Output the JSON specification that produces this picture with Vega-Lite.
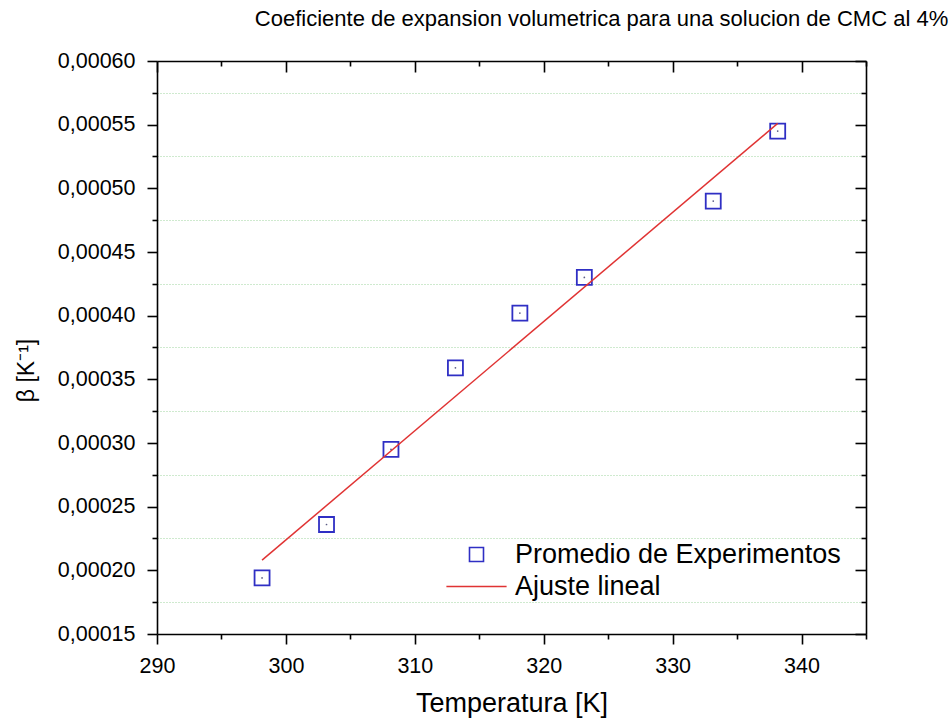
{
  "$schema": "https://vega.github.io/schema/vega-lite/v6.json",
  "width": 709,
  "height": 573,
  "autosize": "none",
  "padding": {"left": 157, "top": 61, "right": 83, "bottom": 85},
  "background": "white",
  "config": {
    "view": {"stroke": null},
    "font": "Liberation Sans",
    "axis": {"labelFont": "Liberation Sans", "titleFont": "Liberation Sans", "labelColor": "black", "titleColor": "black", "domainColor": "black", "tickColor": "black", "domainWidth": 1.6, "tickWidth": 1.6, "titleFontWeight": "normal"},
    "legend": {"labelFont": "Liberation Sans"}
  },
  "title": {"text": "Coeficiente de expansion volumetrica para una solucion de CMC al 4%", "fontSize": 22, "fontWeight": "normal", "font": "Liberation Sans", "color": "black", "anchor": "middle", "dx": 90, "offset": 19},
  "datasets": {
    "pts": [
      {"T": 298.15, "b": 0.000194, "s": "Promedio de Experimentos"},
      {"T": 303.15, "b": 0.000236, "s": "Promedio de Experimentos"},
      {"T": 308.15, "b": 0.000295, "s": "Promedio de Experimentos"},
      {"T": 313.15, "b": 0.000359, "s": "Promedio de Experimentos"},
      {"T": 318.15, "b": 0.000402, "s": "Promedio de Experimentos"},
      {"T": 323.15, "b": 0.00043, "s": "Promedio de Experimentos"},
      {"T": 333.15, "b": 0.00049, "s": "Promedio de Experimentos"},
      {"T": 338.15, "b": 0.000545, "s": "Promedio de Experimentos"}
    ],
    "fit": [
      {"T": 298.15, "b": 0.000208, "s": "Ajuste lineal"},
      {"T": 338.15, "b": 0.000551, "s": "Ajuste lineal"}
    ]
  },
  "resolve": {"axis": {"x": "independent", "y": "independent"}},
  "layer": [
    {
      "data": {"name": "pts"},
      "mark": {"type": "point", "shape": "square", "filled": false, "size": 225, "strokeWidth": 1.8, "opacity": 1},
      "encoding": {
        "x": {"field": "T", "type": "quantitative", "scale": {"domain": [290, 345], "nice": false, "zero": false},
          "axis": {"orient": "bottom", "values": [290, 295, 300, 305, 310, 315, 320, 325, 330, 335, 340, 345],
            "labelExpr": "datum.value % 10 === 0 ? datum.label : ''",
            "tickSize": {"condition": {"test": "datum.value % 10 === 0", "value": 10}, "value": 5},
            "labelFontSize": 21.5, "labelPadding": 11, "labelFlush": false, "labelOverlap": false, "grid": false,
            "title": "Temperatura [K]", "titleFontSize": 27, "titlePadding": 14}},
        "y": {"field": "b", "type": "quantitative", "scale": {"domain": [0.00015, 0.0006], "nice": false, "zero": false},
          "axis": {"orient": "left", "values": [0.00015, 0.000175, 0.0002, 0.000225, 0.00025, 0.000275, 0.0003, 0.000325, 0.00035, 0.000375, 0.0004, 0.000425, 0.00045, 0.000475, 0.0005, 0.000525, 0.00055, 0.000575, 0.0006],
            "labelExpr": "abs(datum.value*20000 - round(datum.value*20000)) < 0.01 ? replace(format(datum.value, '.5f'), '.', ',') : ''",
            "tickSize": {"condition": {"test": "abs(datum.value*20000 - round(datum.value*20000)) < 0.01", "value": 10}, "value": 5},
            "labelFontSize": 21.5, "labelPadding": 12, "labelFlush": false, "labelOverlap": false,
            "grid": true, "gridColor": "#9fd49f", "gridDash": [1, 2], "gridWidth": 1,
            "gridOpacity": {"condition": {"test": "abs(datum.value*20000 - round(datum.value*20000)) < 0.01", "value": 0}, "value": 1},
            "title": "β [K⁻¹]", "titleFontSize": 23, "titlePadding": 19, "titleY": 309}},
        "color": {"field": "s", "type": "nominal", "scale": {"domain": ["Promedio de Experimentos", "Ajuste lineal"], "range": ["#2f2fc4", "#e03333"]},
          "legend": {"title": null, "orient": "none", "legendX": 306, "legendY": 480, "labelFontSize": 27, "labelColor": "black", "labelLimit": 500, "symbolSize": 196, "symbolStrokeWidth": 1.6, "symbolOpacity": 1, "rowPadding": 4, "labelOffset": 25, "padding": 0}},
        "shape": {"field": "s", "type": "nominal", "scale": {"domain": ["Promedio de Experimentos", "Ajuste lineal"], "range": ["square", "M-4.3,0L4.3,0"]}}
      }
    },
    {
      "data": {"name": "fit"},
      "mark": {"type": "line", "strokeWidth": 1.5},
      "encoding": {
        "x": {"field": "T", "type": "quantitative",
          "axis": {"orient": "top", "values": [290, 295, 300, 305, 310, 315, 320, 325, 330, 335, 340, 345], "labels": false, "title": null, "grid": false,
            "tickSize": {"condition": {"test": "datum.value % 10 === 0", "value": -11}, "value": -5}}},
        "y": {"field": "b", "type": "quantitative",
          "axis": {"orient": "right", "values": [0.00015, 0.000175, 0.0002, 0.000225, 0.00025, 0.000275, 0.0003, 0.000325, 0.00035, 0.000375, 0.0004, 0.000425, 0.00045, 0.000475, 0.0005, 0.000525, 0.00055, 0.000575, 0.0006], "labels": false, "title": null, "grid": false,
            "tickSize": {"condition": {"test": "abs(datum.value*20000 - round(datum.value*20000)) < 0.01", "value": -11}, "value": -5}}},
        "color": {"field": "s", "type": "nominal"}
      }
    },
    {
      "data": {"name": "pts"},
      "mark": {"type": "point", "shape": "circle", "filled": true, "size": 3, "color": "#333366", "opacity": 0.8},
      "encoding": {
        "x": {"field": "T", "type": "quantitative", "axis": null},
        "y": {"field": "b", "type": "quantitative", "axis": null}
      }
    }
  ]
}
